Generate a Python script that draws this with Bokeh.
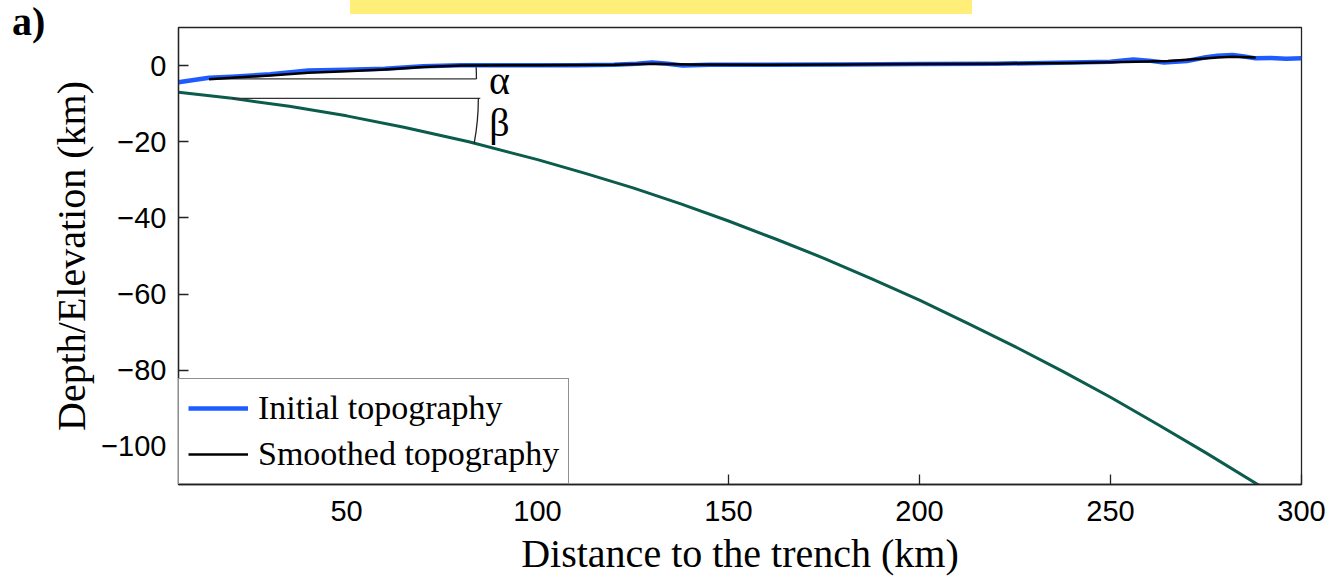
import math
from bokeh.plotting import figure
from bokeh.layouts import column
from bokeh.models import FixedTicker, Legend, LegendItem, Range1d, Div
from bokeh.embed import file_html
from bokeh.resources import INLINE
from bokeh.core.properties import value

# ---------------- data ----------------
x_ticks = [50, 100, 150, 200, 250, 300]
x_tick_labels = ["50", "100", "150", "200", "250", "300"]
y_ticks = [-100, -80, -60, -40, -20, 0]
y_tick_labels = ["\u2212100", "\u221280", "\u221260", "\u221240", "\u221220", "0"]

init_x = [6, 10, 14, 20, 30, 40, 50, 60, 70, 80, 90, 100, 110, 120, 126, 130, 134, 138,
          145, 160, 180, 200, 220, 240, 250, 256, 260, 264, 270, 275, 278, 282, 285, 288,
          292, 296, 300]
init_y = [-4.4, -3.8, -3.2, -2.9, -2.3, -1.3, -1.1, -0.8, -0.2, 0.1, 0.1, 0.1, 0.1, 0.2,
          0.5, 0.8, 0.5, 0.0, 0.2, 0.2, 0.3, 0.4, 0.5, 0.8, 1.0, 1.6, 1.3, 0.8, 1.2, 2.2,
          2.6, 2.8, 2.4, 1.9, 2.0, 1.8, 1.9]

smooth_x = [14, 20, 30, 40, 50, 60, 70, 80, 100, 120, 130, 140, 160, 180, 200, 220, 240,
            250, 260, 265, 270, 278, 282, 288]
smooth_y = [-3.6, -3.2, -2.6, -1.9, -1.5, -1.0, -0.4, 0.0, 0.1, 0.2, 0.5, 0.3, 0.2, 0.3,
            0.4, 0.5, 0.7, 0.9, 1.1, 1.2, 1.5, 2.1, 2.3, 2.1]

slab_x = [6, 20, 35, 50, 65, 82, 100, 112.5, 125, 137.5, 150, 162.5, 175, 187.5, 200,
          212.5, 225, 237.5, 250, 262.5, 275, 290]
slab_y = [-7.0, -8.6, -10.7, -13.2, -16.2, -20.0, -24.7, -28.3, -32.1, -36.3, -40.8,
          -45.6, -50.6, -56.0, -61.6, -67.6, -73.8, -80.3, -87.1, -94.3, -101.7, -110.9]

alpha_x = [13, 84]
alpha_y = [-3.5, -3.5]
beta_x = [20, 85]
beta_y = [-8.6, -8.6]
alpha_arc = dict(cx=13, cy=-3.5, r=71, a0=0.0, a1=3.0)
beta_arc = dict(cx=20, cy=-8.6, r=64.5, a0=-10.6, a1=0.0)

# ---------------- figure ----------------
p = figure(width=1330, height=580, output_backend="svg", toolbar_location=None,
           x_range=Range1d(6, 300), y_range=Range1d(-110, 10),
           min_border_left=178, min_border_right=29, min_border_top=27, min_border_bottom=96,
           margin=0)
p.background_fill_color = "white"
p.border_fill_color = "white"
p.outline_line_color = "#222222"
p.outline_line_width = 1.3
p.xgrid.visible = False
p.ygrid.visible = False

SERIF = "Liberation Serif"
SANS = "Liberation Sans"

for ax, ticks, labels in ((p.xaxis[0], x_ticks, x_tick_labels), (p.yaxis[0], y_ticks, y_tick_labels)):
    ax.ticker = FixedTicker(ticks=ticks)
    ax.major_label_overrides = {t: l for t, l in zip(ticks, labels)}
    ax.major_tick_in = 10
    ax.major_tick_out = 0
    ax.minor_tick_in = 0
    ax.minor_tick_out = 0
    ax.major_tick_line_color = "#222222"
    ax.major_tick_line_width = 1.3
    ax.axis_line_color = "#222222"
    ax.axis_line_width = 1.3
    ax.major_label_text_font = SANS
    ax.major_label_text_font_size = "29px"
    ax.major_label_text_color = "black"
    ax.axis_label_text_font = SERIF
    ax.axis_label_text_font_size = "40px"
    ax.axis_label_text_font_style = "normal"
    ax.axis_label_text_color = "black"

p.xaxis.axis_label = "Distance to the trench (km)"
p.yaxis.axis_label = "Depth/Elevation (km)"
p.xaxis.major_label_standoff = 16
p.xaxis.axis_label_standoff = 7
p.yaxis.major_label_standoff = 12
p.yaxis.axis_label_standoff = 4

# slab
p.line(slab_x, slab_y, line_color="#0b5c4c", line_width=3, line_join="round")
# angle lines
p.line(alpha_x, alpha_y, line_color="#333333", line_width=1.4)
p.line(beta_x, beta_y, line_color="#333333", line_width=1.4)
p.arc(x=[alpha_arc["cx"]], y=[alpha_arc["cy"]], radius=alpha_arc["r"],
      start_angle=math.radians(alpha_arc["a0"]), end_angle=math.radians(alpha_arc["a1"]),
      line_color="#222222", line_width=1.3)
p.arc(x=[beta_arc["cx"]], y=[beta_arc["cy"]], radius=beta_arc["r"],
      start_angle=math.radians(beta_arc["a0"]), end_angle=math.radians(beta_arc["a1"]),
      line_color="#222222", line_width=1.3)

r_init = p.line(init_x, init_y, line_color="#1f5cff", line_width=4.5, line_join="round")
r_smooth = p.line(smooth_x, smooth_y, line_color="black", line_width=2.5, line_join="round")

p.text(x=[90], y=[-3.8], text=["\u03b1"], text_font=value(SERIF), text_font_size="40px",
       text_align="center", text_baseline="middle", text_color="black")
p.text(x=[90], y=[-15.0], text=["\u03b2"], text_font=value(SERIF), text_font_size="40px",
       text_align="center", text_baseline="middle", text_color="black")

legend = Legend(items=[LegendItem(label="Initial topography", renderers=[r_init]),
                       LegendItem(label="Smoothed topography", renderers=[r_smooth])],
                location="bottom_left", margin=0, padding=9, spacing=6,
                glyph_width=60, glyph_height=40, label_height=40, label_standoff=10,
                label_text_font=SERIF, label_text_font_size="34px", label_text_color="black",
                border_line_color="#222222", border_line_width=1.3,
                background_fill_color="white", background_fill_alpha=1.0)
p.add_layout(legend)

# panel label and yellow bar as an overlay
overlay = Div(width=1330, height=0, margin=0, text=(
    '<div style="position:absolute;left:350px;top:0px;width:622px;height:14px;'
    'background:#ffef78;"></div>'
    '<div style="position:absolute;left:12px;top:2px;font-family:\'Liberation Serif\';'
    'font-weight:bold;font-size:40px;line-height:40px;color:black;">a)</div>'),
    styles={"overflow": "visible", "position": "relative", "z-index": "10"})

layout = column(overlay, p, spacing=0, margin=0)
open("out.html", "w").write(file_html(layout, INLINE))
